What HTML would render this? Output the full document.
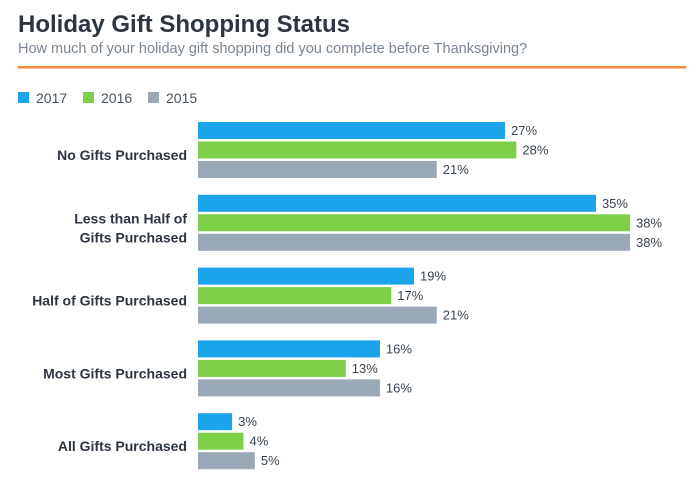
<!DOCTYPE html>
<html><head><meta charset="utf-8"><style>
body{margin:0;background:#fff;width:698px;height:486px;overflow:hidden;font-family:"Liberation Sans",sans-serif}
</style></head><body>
<svg width="698" height="486" xmlns="http://www.w3.org/2000/svg">
<text x="18" y="32" font-size="24" font-weight="bold" fill="#2d3640">Holiday Gift Shopping Status</text>
<text x="18" y="53" font-size="14.5" fill="#7a8590">How much of your holiday gift shopping did you complete before Thanksgiving?</text>
<rect x="18" y="66" width="668" height="2.5" fill="#f28a3c"/>
<g id="legend"></g>
<g id="bars"></g>
</svg>
<script>
const categories=[["No Gifts Purchased"],["Less than Half of","Gifts Purchased"],["Half of Gifts Purchased"],["Most Gifts Purchased"],["All Gifts Purchased"]];
const seriesNames=["2017","2016","2015"];
const v2017=[27,35,19,16,3];
const v2016=[28,38,17,13,4];
const v2015=[21,38,21,16,5];
const colors=["#1ba3ec","#7ed04a","#9ba8b5"];
const series=[v2017,v2016,v2015];
const NS="http://www.w3.org/2000/svg";
const x0=198,pxPer=11.37;
const xs=v=>x0+v*pxPer;
const gy=i=>122+i*72.8;
function mk(t,a){const e=document.createElementNS(NS,t);for(const k in a)e.setAttribute(k,a[k]);return e;}
const lg=document.getElementById('legend');
seriesNames.forEach((n,i)=>{
 const lx=18+i*65;
 const r=mk('rect',{x:lx,y:92,width:11,height:11,fill:colors[i]});
 
 
 lg.appendChild(r);
 const t=mk('text',{x:lx+18,y:103,'font-size':14,fill:'#4a5560'});
 
 
 t.textContent=n;lg.appendChild(t);
});
const bg=document.getElementById('bars');
categories.forEach((c,i)=>{
 const y=gy(i);
 const lab=mk('text',{'text-anchor':'end','font-size':14,'font-weight':'bold',fill:'#2d3640'});
 
 
 const cy=y+33;
 c.forEach((line,j)=>{const ts=mk('tspan',{x:187,y:cy+5+(j-(c.length-1)/2)*19});ts.textContent=line;lab.appendChild(ts);});
 bg.appendChild(lab);
 series.forEach((s,k)=>{
  const by=y+k*19.5;
  const r=mk('rect',{x:x0,y:by,width:xs(s[i])-x0,height:17,fill:colors[k]});
  
  
  bg.appendChild(r);
  const t=mk('text',{x:xs(s[i])+6,y:by+13,'font-size':13,fill:'#3a4550'});
  
  
  t.textContent=s[i]+'%';bg.appendChild(t);
 });
});
</script>
</body></html>
